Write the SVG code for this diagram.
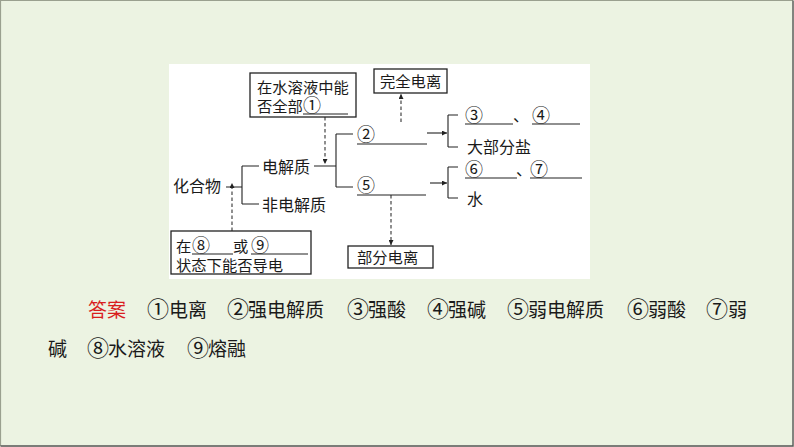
<svg xmlns="http://www.w3.org/2000/svg" width="794" height="447" viewBox="0 0 794 447">
<defs>
<style>
.t{font-family:"Noto Sans CJK SC","Noto Sans",sans-serif;fill:#1a1a1a;}
.d{font-size:16px;}
.b{font-size:15.3px;}
.a{font-size:19px;}
.c{font-size:18px;}
.ca{font-size:22px;}
.ln{stroke:#222;stroke-width:1.1;fill:none;}
.ds{stroke:#333;stroke-width:1.1;fill:none;stroke-dasharray:3.5 2.5;}
.box{fill:#fff;stroke:#222;stroke-width:1.3;}
</style>
<marker id="ah" viewBox="0 0 10 10" refX="10" refY="5" markerWidth="6" markerHeight="5" markerUnits="userSpaceOnUse" orient="auto">
<path d="M0,0 L10,5 L0,10 Z" fill="#222"/>
</marker>
</defs>
<rect x="0" y="0" width="794" height="447" fill="#ECF3E2"/>
<path d="M0.5,446 V0.5 H793" stroke="#9aa08f" stroke-width="1.2" fill="none"/>
<path d="M0.5,446 H793 V0.5" stroke="#555" stroke-width="1.4" fill="none"/>
<rect x="169" y="64" width="421" height="215" fill="#fff"/>

<g id="connectors">
<path class="ln" d="M226,187 H242 M242,166 V204 M242,166 H259 M242,204 H259"/>
<path class="ln" d="M314,166 H336 M336,134 V187 M336,134 H353 M336,187 H353"/>
<path class="ds" d="M325,117 V164" marker-end="url(#ah)"/>
<path class="ds" d="M232,231 V183" marker-end="url(#ah)"/>
<path class="ds" d="M401,122 V94" marker-end="url(#ah)"/>
<path class="ds" d="M391,195 V245" marker-end="url(#ah)"/>
<path class="ln" d="M427,133 H447" marker-end="url(#ah)"/>
<path class="ln" d="M448,115 V147 M448,115 H458 M448,147 H458"/>
<path class="ln" d="M430,183 H447" marker-end="url(#ah)"/>
<path class="ln" d="M448,167 V198 M448,167 H458 M448,198 H458"/>
</g>

<g id="n-compound"><text class="t d" x="173" y="192">化合物</text></g>
<g id="n-electrolyte"><text class="t d" x="262" y="173">电解质</text></g>
<g id="n-nonelectrolyte"><text class="t d" x="262" y="211">非电解质</text></g>

<g id="n-box1">
<rect class="box" x="250" y="73" width="106" height="44"/>
<text class="t b" x="257" y="93">在水溶液中能</text>
<text class="t b" x="257" y="112">否全部<tspan class="c" x="303">①</tspan></text>
<path class="ln" d="M303,114 H348"/>
</g>

<g id="n-box2">
<rect class="box" x="171" y="231" width="140" height="43"/>
<text class="t b" x="176" y="252">在<tspan class="c" x="192">⑧</tspan></text>
<text class="t b" x="233" y="252">或<tspan class="c" x="251">⑨</tspan></text>
<path class="ln" d="M192,254 H233 M251,254 H308"/>
<text class="t b" x="176" y="271">状态下能否导电</text>
</g>

<g id="n-complete">
<rect class="box" x="374" y="69" width="73" height="24"/>
<text class="t b" x="380" y="87">完全电离</text>
</g>

<g id="n-partial">
<rect class="box" x="348" y="246" width="85" height="22"/>
<text class="t b" x="357" y="263">部分电离</text>
</g>

<g id="n-strong">
<text class="t c" x="357" y="141">②</text>
<path class="ln" d="M357,144 H427"/>
</g>
<g id="n-weak">
<text class="t c" x="357" y="192">⑤</text>
<path class="ln" d="M357,195 H426"/>
</g>

<g id="n-strong-list">
<text class="t c" x="465" y="122">③</text>
<path class="ln" d="M465,124 H513 M532,124 H580"/>
<text class="t d" x="513" y="121">、</text>
<text class="t c" x="532" y="122">④</text>
<text class="t d" x="467" y="153">大部分盐</text>
</g>
<g id="n-weak-list">
<text class="t c" x="465" y="176">⑥</text>
<path class="ln" d="M465,178 H517 M530,178 H582"/>
<text class="t d" x="516" y="175">、</text>
<text class="t c" x="530" y="176">⑦</text>
<text class="t d" x="467" y="205">水</text>
</g>

<g id="answers">
<text class="t a" x="88" y="317" style="fill:#d91e1e">答案</text>
<text class="t a" x="147" y="317"><tspan class="ca">①</tspan><tspan x="169">电离</tspan></text>
<text class="t a" x="227" y="317"><tspan class="ca">②</tspan><tspan x="248">强电解质</tspan></text>
<text class="t a" x="347" y="317"><tspan class="ca">③</tspan><tspan x="368">强酸</tspan></text>
<text class="t a" x="427" y="317"><tspan class="ca">④</tspan><tspan x="448">强碱</tspan></text>
<text class="t a" x="507" y="317"><tspan class="ca">⑤</tspan><tspan x="528">弱电解质</tspan></text>
<text class="t a" x="627" y="317"><tspan class="ca">⑥</tspan><tspan x="648">弱酸</tspan></text>
<text class="t a" x="706" y="317"><tspan class="ca">⑦</tspan><tspan x="728">弱</tspan></text>
<text class="t a" x="48" y="356">碱</text>
<text class="t a" x="87" y="356"><tspan class="ca">⑧</tspan><tspan x="108">水溶液</tspan></text>
<text class="t a" x="187" y="356"><tspan class="ca">⑨</tspan><tspan x="208">熔融</tspan></text>
</g>
</svg>
